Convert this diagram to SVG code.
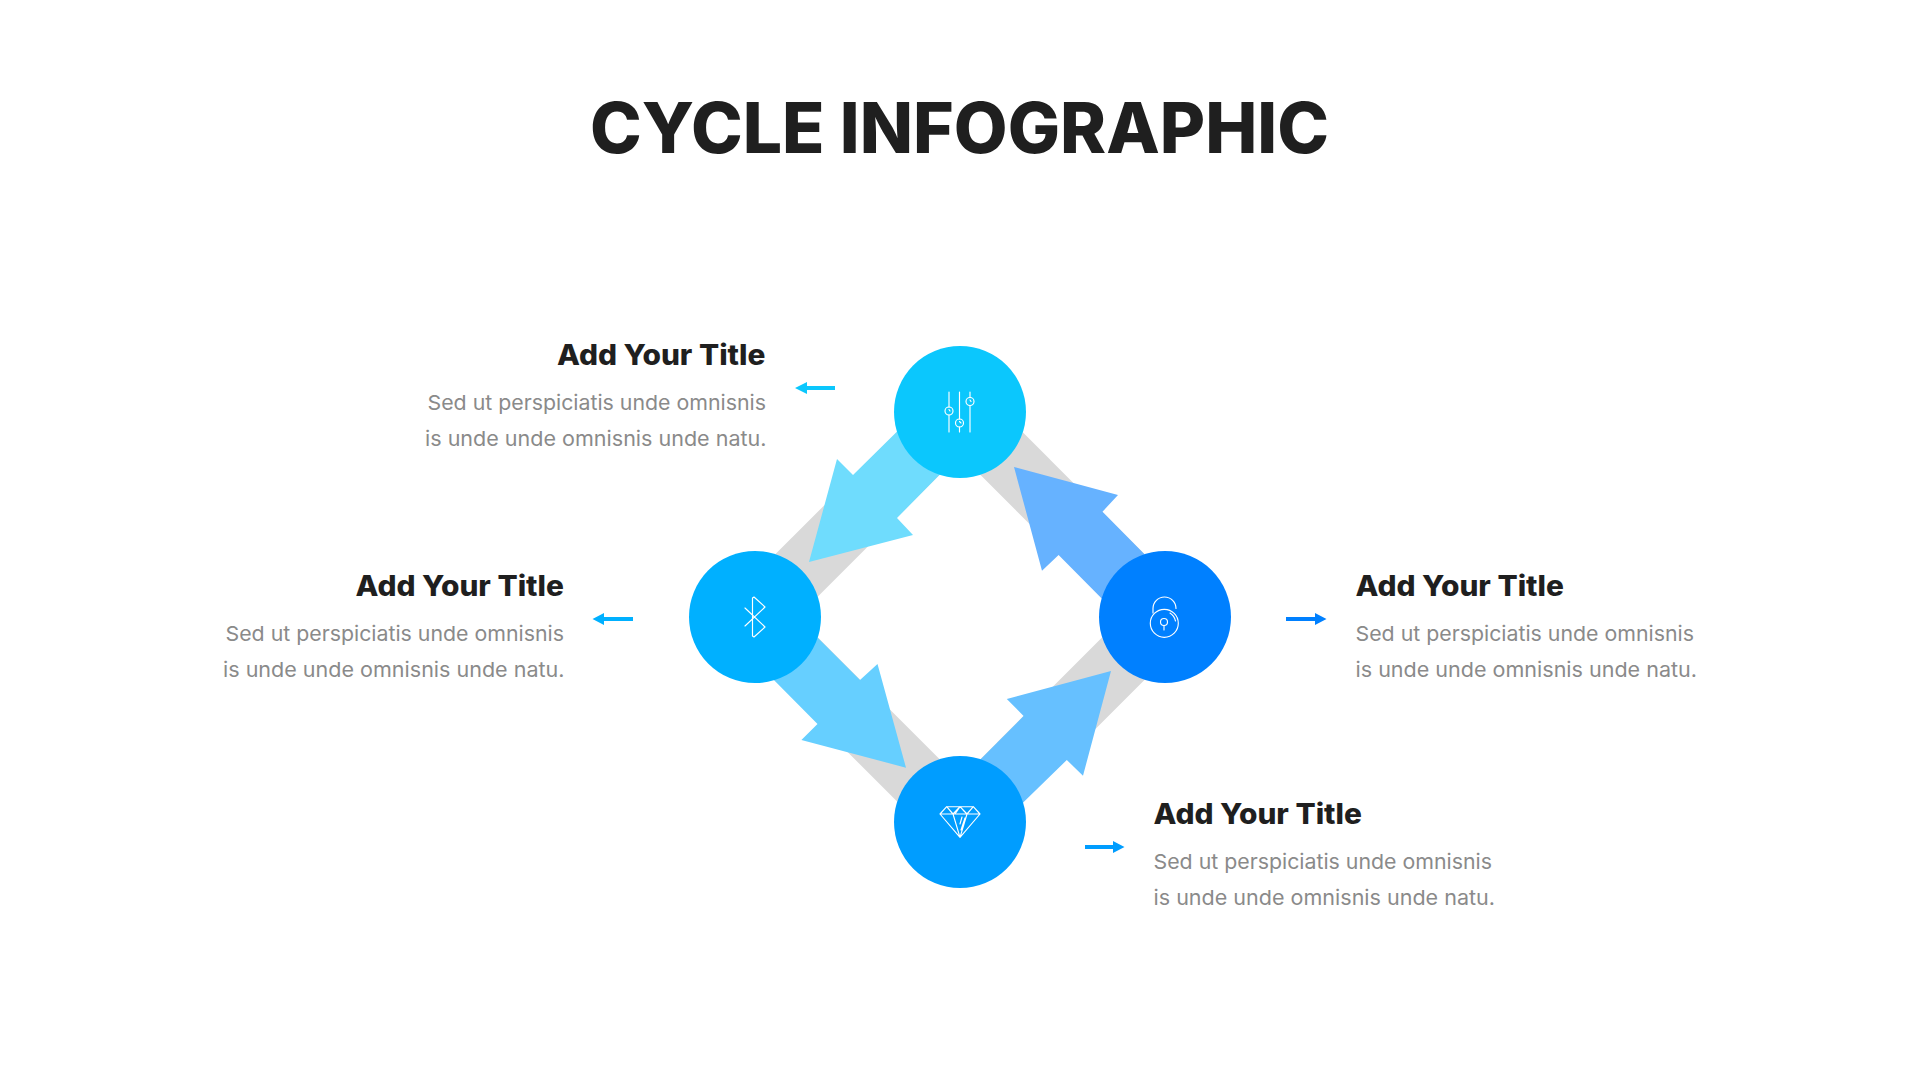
<svg xmlns="http://www.w3.org/2000/svg" width="1920" height="1080" viewBox="0 0 1920 1080">
<style>
.h{font-family:"Inter","Liberation Sans",sans-serif;font-weight:800;fill:#1f1f1f}
.t{font-size:28px}
.b{font-family:"Inter","Liberation Sans",sans-serif;font-weight:400;font-size:20.5px;fill:#8a8a8a}
.i{fill:none;stroke:#fff;stroke-width:1.15;stroke-linecap:round;stroke-linejoin:round}
.band{stroke:#d9d9d9;stroke-width:60;fill:none}
</style>
<rect width="1920" height="1080" fill="#fff"/>
<text class="h" x="590" y="153" font-size="70" textLength="739" lengthAdjust="spacingAndGlyphs">CYCLE INFOGRAPHIC</text>
<g id="connectors">
<path class="band" d="M960 412L755 617"/>
<path class="band" d="M960 412L1165 617"/>
<path class="band" d="M755 617L960 822"/>
<path class="band" d="M960 822L1165 617"/>
<polygon fill="#6fdcfd" points="925,404 853,475 837,459 809,562 913,535 897,518 967,447"/>
<polygon fill="#66b2ff" points="1165,575 1102.5,511.7 1118,495 1014,467 1042,570.7 1058.6,555 1125,622"/>
<polygon fill="#66cfff" points="790,610 860,680 877.5,664 906,767.7 801.4,740 817.5,724 748,654"/>
<polygon fill="#66c0ff" points="1000,825 1066.8,760 1083,775.7 1111,671 1006.8,699 1023.6,716 955,785"/>
<path fill="#0bc7fd" d="M795 388L807 382V386H835V390H807V394Z"/>
<path fill="#00b0ff" d="M592.500 619L604 613V617H633V621H604V625Z"/>
<path fill="#0080ff" d="M1326.500 619L1315 613V617H1286V621H1315V625Z"/>
<path fill="#009dff" d="M1124.500 847L1113 841V845H1085V849H1113V853Z"/>
</g>
<g id="node-top">
<circle cx="960" cy="412" r="66" fill="#0bc7fd"/>
<path class="i" d="M949 392V407M949 415V432M959.500 392V419M959.500 427V432M970 392V397.500M970 405.500V432M949 409.500L950 411M959.500 421.500L961 423M970 400L971 401.500"/>
<circle class="i" cx="949" cy="411" r="4"/><circle class="i" cx="959.500" cy="423" r="4"/><circle class="i" cx="970" cy="401.500" r="4"/>
</g>
<g id="node-left">
<circle cx="755" cy="617" r="66" fill="#00b0ff"/>
<path class="i" d="M745 608L765 627L754 637L752.500 636V598L754 597L765 607L745 626"/>
</g>
<g id="node-right">
<circle cx="1165" cy="617" r="66" fill="#0080ff"/>
<circle class="i" cx="1164.300" cy="623.300" r="14"/>
<circle class="i" cx="1164" cy="622" r="3.500"/>
<path class="i" d="M1164 625.500V630M1153 613V608.500A11.500 11.500 0 0 1 1176 608.500M1170 613A13 13 0 0 1 1175.500 621"/>
</g>
<g id="node-bottom">
<circle cx="960" cy="822" r="66" fill="#009dff"/>
<path class="i" d="M940 814L946.700 806.700H973.300L980 814L960 837.300ZM940 814H980M946.700 806.700L953 814L960 806.700L967 814L973.300 806.700M953 814L960 837.300L967 814M960 806.700L955 814M963 810L966 813M965 818L961 830M962 817L960 824"/>
</g>
<g id="label-top">
<text class="h t" x="557" y="364.500" textLength="208.500" lengthAdjust="spacingAndGlyphs">Add Your Title</text>
<text class="b" x="427.500" y="409.500" textLength="338.500" lengthAdjust="spacingAndGlyphs">Sed ut perspiciatis unde omnisnis</text>
<text class="b" x="425" y="445.500" textLength="341.500" lengthAdjust="spacingAndGlyphs">is unde unde omnisnis unde natu.</text>
</g>
<g id="label-left">
<text class="h t" x="355.500" y="595.500" textLength="208.500" lengthAdjust="spacingAndGlyphs">Add Your Title</text>
<text class="b" x="225.500" y="640.500" textLength="338.500" lengthAdjust="spacingAndGlyphs">Sed ut perspiciatis unde omnisnis</text>
<text class="b" x="223" y="676.500" textLength="341.500" lengthAdjust="spacingAndGlyphs">is unde unde omnisnis unde natu.</text>
</g>
<g id="label-right">
<text class="h t" x="1355.500" y="595.500" textLength="208.500" lengthAdjust="spacingAndGlyphs">Add Your Title</text>
<text class="b" x="1355.500" y="640.500" textLength="338.500" lengthAdjust="spacingAndGlyphs">Sed ut perspiciatis unde omnisnis</text>
<text class="b" x="1355.500" y="676.500" textLength="341.500" lengthAdjust="spacingAndGlyphs">is unde unde omnisnis unde natu.</text>
</g>
<g id="label-bottom">
<text class="h t" x="1153.500" y="823.500" textLength="208.500" lengthAdjust="spacingAndGlyphs">Add Your Title</text>
<text class="b" x="1153.500" y="868.500" textLength="338.500" lengthAdjust="spacingAndGlyphs">Sed ut perspiciatis unde omnisnis</text>
<text class="b" x="1153.500" y="904.500" textLength="341.500" lengthAdjust="spacingAndGlyphs">is unde unde omnisnis unde natu.</text>
</g>
</svg>
